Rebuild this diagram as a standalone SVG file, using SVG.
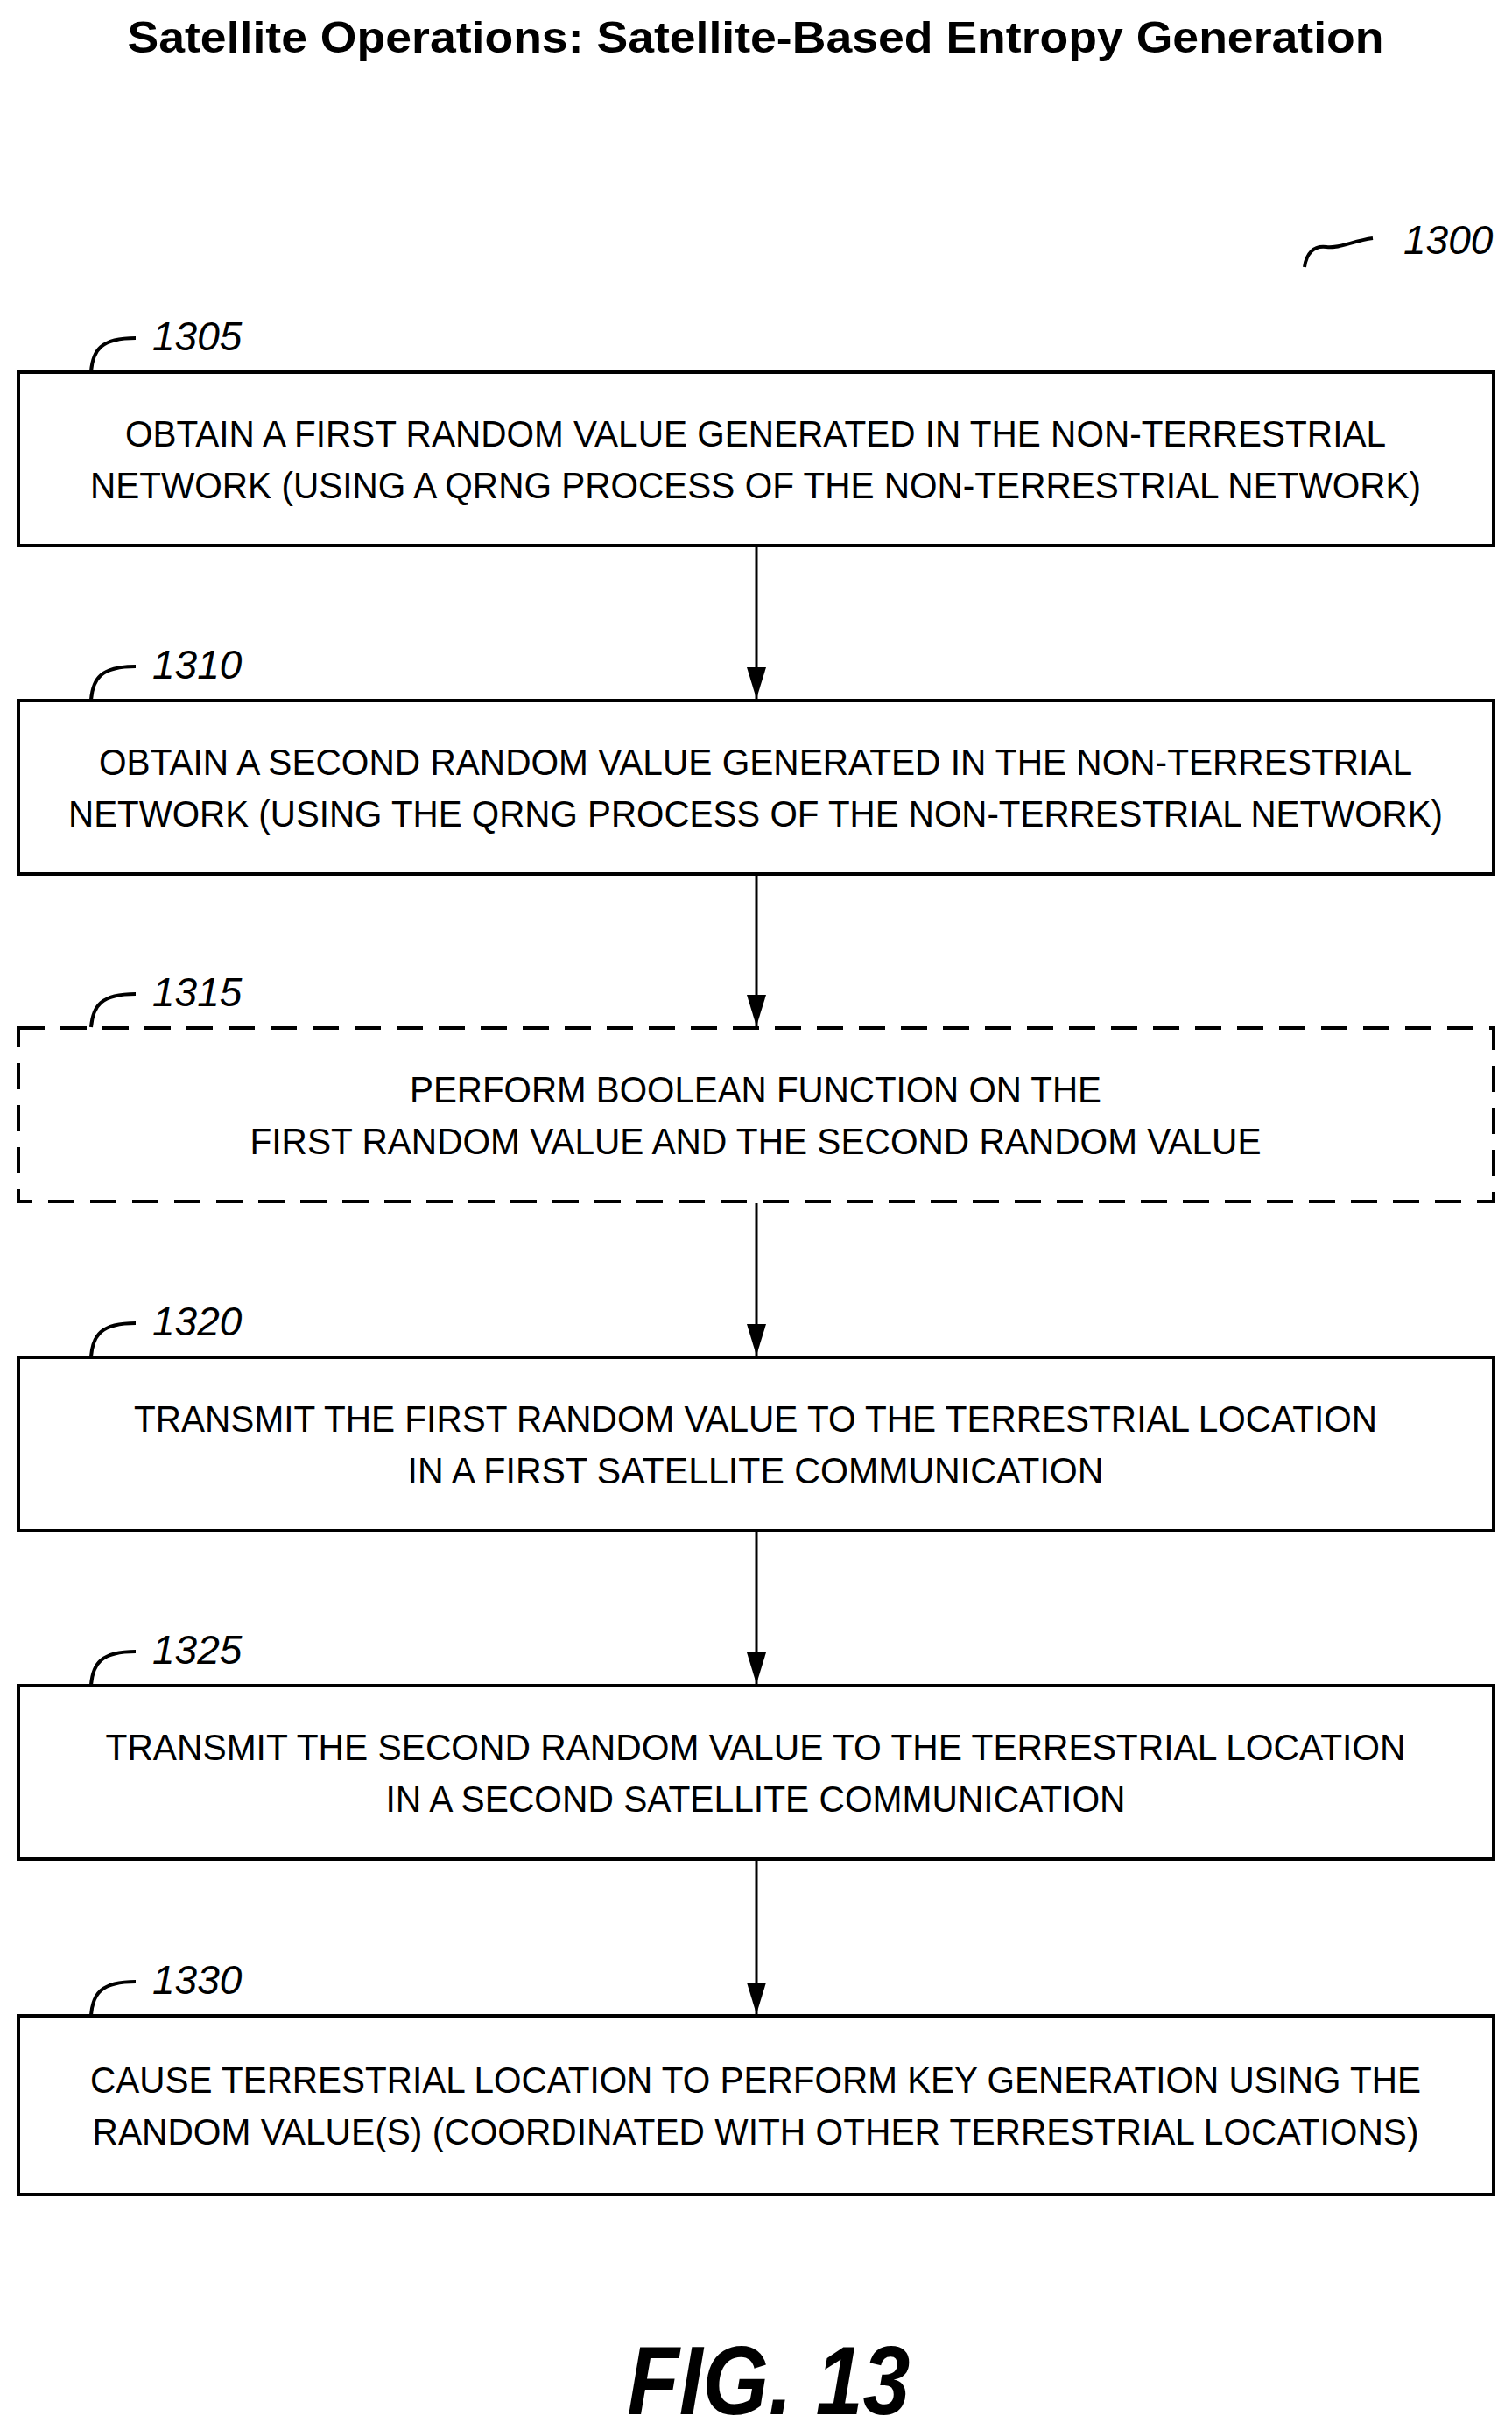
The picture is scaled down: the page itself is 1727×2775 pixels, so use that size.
<svg xmlns="http://www.w3.org/2000/svg" width="1727" height="2775" viewBox="0 0 1727 2775">
<style>
.box{fill:#fff;stroke:#000;stroke-width:4}
.dash{stroke-dasharray:30 18}
.t{font-family:"Liberation Sans",Arial,sans-serif;font-size:42px;text-anchor:middle;fill:#000}
.lbl{font-family:"Liberation Sans",Arial,sans-serif;font-size:46px;font-style:italic;fill:#000}
.ld{fill:none;stroke:#000;stroke-width:4}
.c{stroke:#000;stroke-width:3;fill:none}
</style>
<defs><marker id="ah" markerWidth="36" markerHeight="22" refX="36" refY="11" orient="auto" markerUnits="userSpaceOnUse" viewBox="0 0 36 22"><path d="M0,0 L36,11 L0,22 Z" fill="#000"/></marker></defs>
<rect width="1727" height="2775" fill="#fff"/>
<text x="863" y="60" font-family="Liberation Sans,Arial,sans-serif" font-weight="bold" font-size="50" text-anchor="middle" textLength="1435" lengthAdjust="spacingAndGlyphs">Satellite Operations: Satellite-Based Entropy Generation</text>
<g id="ref1300"><path class="ld" d="M1490,305 C1492,290 1500,280 1515,282 C1530,284 1545,275 1568,272"/><text class="lbl" x="1603" y="290">1300</text></g>
<g id="n1305"><rect class="box" x="21" y="425" width="1685" height="198"/><path class="ld" d="M104,424 C106,400 115,386 155,386"/><text class="lbl" x="174" y="400">1305</text>
<text class="t" x="863" y="510" textLength="1440" lengthAdjust="spacingAndGlyphs">OBTAIN A FIRST RANDOM VALUE GENERATED IN THE NON-TERRESTRIAL</text>
<text class="t" x="863" y="569" textLength="1520" lengthAdjust="spacingAndGlyphs">NETWORK (USING A QRNG PROCESS OF THE NON-TERRESTRIAL NETWORK)</text></g>
<g id="n1310"><rect class="box" x="21" y="800" width="1685" height="198"/><path class="ld" d="M104,799 C106,775 115,761 155,761"/><text class="lbl" x="174" y="775">1310</text>
<text class="t" x="863" y="885" textLength="1500" lengthAdjust="spacingAndGlyphs">OBTAIN A SECOND RANDOM VALUE GENERATED IN THE NON-TERRESTRIAL</text>
<text class="t" x="863" y="944" textLength="1570" lengthAdjust="spacingAndGlyphs">NETWORK (USING THE QRNG PROCESS OF THE NON-TERRESTRIAL NETWORK)</text></g>
<g id="n1315"><rect class="box dash" x="21" y="1174" width="1685" height="198"/><path class="ld" d="M104,1173 C106,1149 115,1135 155,1135"/><text class="lbl" x="174" y="1149">1315</text>
<text class="t" x="863" y="1259" textLength="790" lengthAdjust="spacingAndGlyphs">PERFORM BOOLEAN FUNCTION ON THE</text>
<text class="t" x="863" y="1318" textLength="1155" lengthAdjust="spacingAndGlyphs">FIRST RANDOM VALUE AND THE SECOND RANDOM VALUE</text></g>
<g id="n1320"><rect class="box" x="21" y="1550" width="1685" height="198"/><path class="ld" d="M104,1549 C106,1525 115,1511 155,1511"/><text class="lbl" x="174" y="1525">1320</text>
<text class="t" x="863" y="1635" textLength="1420" lengthAdjust="spacingAndGlyphs">TRANSMIT THE FIRST RANDOM VALUE TO THE TERRESTRIAL LOCATION</text>
<text class="t" x="863" y="1694" textLength="795" lengthAdjust="spacingAndGlyphs">IN A FIRST SATELLITE COMMUNICATION</text></g>
<g id="n1325"><rect class="box" x="21" y="1925" width="1685" height="198"/><path class="ld" d="M104,1924 C106,1900 115,1886 155,1886"/><text class="lbl" x="174" y="1900">1325</text>
<text class="t" x="863" y="2010" textLength="1485" lengthAdjust="spacingAndGlyphs">TRANSMIT THE SECOND RANDOM VALUE TO THE TERRESTRIAL LOCATION</text>
<text class="t" x="863" y="2069" textLength="845" lengthAdjust="spacingAndGlyphs">IN A SECOND SATELLITE COMMUNICATION</text></g>
<g id="n1330"><rect class="box" x="21" y="2302" width="1685" height="204"/><path class="ld" d="M104,2301 C106,2277 115,2263 155,2263"/><text class="lbl" x="174" y="2277">1330</text>
<text class="t" x="863" y="2390" textLength="1520" lengthAdjust="spacingAndGlyphs">CAUSE TERRESTRIAL LOCATION TO PERFORM KEY GENERATION USING THE</text>
<text class="t" x="863" y="2449" textLength="1515" lengthAdjust="spacingAndGlyphs">RANDOM VALUE(S) (COORDINATED WITH OTHER TERRESTRIAL LOCATIONS)</text></g>
<g id="connectors">
<line class="c" x1="864" y1="625" x2="864" y2="798" marker-end="url(#ah)"/>
<line class="c" x1="864" y1="1000" x2="864" y2="1172" marker-end="url(#ah)"/>
<line class="c" x1="864" y1="1374" x2="864" y2="1548" marker-end="url(#ah)"/>
<line class="c" x1="864" y1="1750" x2="864" y2="1923" marker-end="url(#ah)"/>
<line class="c" x1="864" y1="2125" x2="864" y2="2300" marker-end="url(#ah)"/>
</g>
<text x="878" y="2757" font-family="Liberation Sans,Arial,sans-serif" font-weight="bold" font-style="italic" font-size="112" text-anchor="middle" textLength="323" lengthAdjust="spacingAndGlyphs">FIG. 13</text>
</svg>
